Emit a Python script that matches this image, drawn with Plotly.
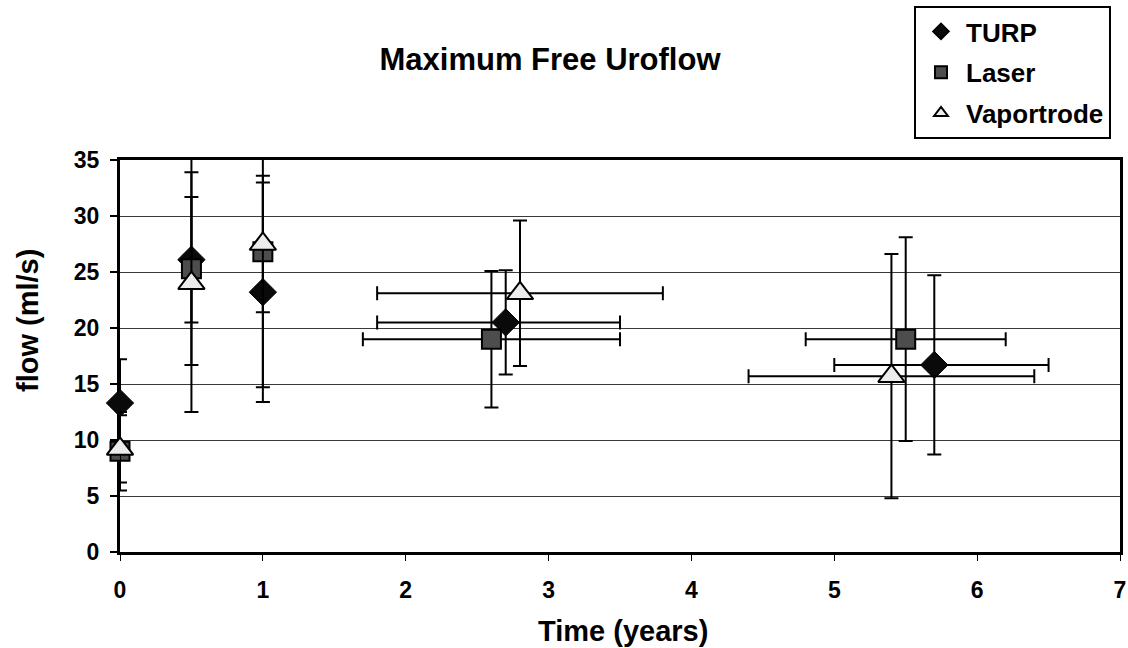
import plotly.graph_objects as go

# ---- data ----
series_names = ["TURP", "Laser", "Vaportrode"]

turp_x = [0, 0.5, 1, 2.7, 5.7]
turp_y = [13.3, 26.1, 23.2, 20.5, 16.7]
turp_yerr = [3.9, 5.6, 9.8, 4.65, 8.0]
turp_xerr_plus = [None, None, None, 0.8, 0.8]
turp_xerr_minus = [None, None, None, 0.9, 0.7]

laser_x = [0, 0.5, 1, 2.6, 5.5]
laser_y = [9.0, 25.3, 26.8, 19.0, 19.0]
laser_yerr = [3.5, 8.6, 12.1, 6.1, 9.1]
laser_xerr_plus = [None, None, None, 0.9, 0.7]
laser_xerr_minus = [None, None, None, 0.9, 0.7]

vapor_x = [0, 0.5, 1, 2.8, 5.4]
vapor_y = [9.2, 24.0, 27.5, 23.1, 15.7]
vapor_yerr = [3.0, 11.5, 6.1, 6.5, 10.9]
vapor_xerr_plus = [None, None, None, 1.0, 1.0]
vapor_xerr_minus = [None, None, None, 1.0, 1.0]

x_ticks = [0, 1, 2, 3, 4, 5, 6, 7]
y_ticks = [0, 5, 10, 15, 20, 25, 30, 35]

title_text = "Maximum Free Uroflow"
x_title = "Time (years)"
y_title = "flow (ml/s)"

FONT = "Liberation Sans, Arial, sans-serif"

def err(arr, arrm=None):
    d = dict(type="data", array=arr, color="black", thickness=2, width=7, visible=True)
    if arrm is not None:
        d["symmetric"] = False
        d["arrayminus"] = arrm
    else:
        d["symmetric"] = True
    return d

styles = [
    dict(symbol="diamond", size=21, color="#0a0a0a", line=dict(color="black", width=1)),
    dict(symbol="square", size=19, color="#4d4d4d", line=dict(color="black", width=2)),
    dict(symbol="triangle-up", size=23, color="#ececec", line=dict(color="black", width=2)),
]

data = [
    (turp_x, turp_y, turp_yerr, turp_xerr_plus, turp_xerr_minus),
    (laser_x, laser_y, laser_yerr, laser_xerr_plus, laser_xerr_minus),
    (vapor_x, vapor_y, vapor_yerr, vapor_xerr_plus, vapor_xerr_minus),
]

fig = go.Figure()
for i, (name, (xs, ys, ye, xp, xm)) in enumerate(zip(series_names, data)):
    fig.add_trace(go.Scatter(
        x=xs, y=ys, name=name, mode="markers",
        marker=styles[i],
        error_y=err(ye),
        error_x=err(xp, xm),
        cliponaxis=False,
        legendgroup=name,
    ))

axis_common = dict(
    showline=True, linecolor="black", linewidth=3, mirror=True,
    ticks="outside", tickcolor="black", zeroline=False,
    tickfont=dict(family=FONT, size=23, color="black", weight="bold"),
    layer="below traces", automargin=False,
)

fig.update_xaxes(
    range=[0, 7], tickvals=x_ticks, showgrid=False, ticklen=6, tickwidth=1,
    ticklabelstandoff=9,
    **axis_common,
)
fig.update_yaxes(
    range=[0, 35], tickvals=y_ticks, showgrid=True, gridcolor="#3a3a3a", gridwidth=1.3,
    ticklen=7, tickwidth=1.5, ticklabelstandoff=6,
    **axis_common,
)

# page body margin is removed in post_script, so figure pixels = reference pixels
W, H = 1128, 648
PLOT_L, PLOT_T = 120, 160
PLOT_R = W - 1120
PLOT_B = H - 552
PH = H - PLOT_T - PLOT_B
PW = W - PLOT_L - PLOT_R

def px(x):
    return (x - PLOT_L) / PW

def py(y):
    return (H - PLOT_B - y) / PH

fig.update_layout(
    width=W, height=H,
    margin=dict(l=PLOT_L, r=PLOT_R, t=PLOT_T, b=PLOT_B, autoexpand=False),
    paper_bgcolor="white", plot_bgcolor="white",
    title=dict(text=title_text, xref="container", yref="container",
               x=550 / W, y=1 - 59 / H, xanchor="center", yanchor="middle",
               font=dict(family=FONT, size=31, color="black", weight="bold")),
    legend=dict(
        x=px(914), y=py(6), xanchor="left", yanchor="top",
        bgcolor="white", bordercolor="black", borderwidth=2,
        font=dict(family=FONT, size=26, color="black", weight="bold"),
        itemsizing="constant", itemwidth=40, traceorder="grouped", tracegroupgap=4,
    ),
    showlegend=True,
    annotations=[
        dict(text=x_title, xref="paper", yref="paper",
             x=px(623), y=py(631), xanchor="center", yanchor="middle",
             showarrow=False, font=dict(family=FONT, size=29, color="black", weight="bold")),
        dict(text=y_title, xref="paper", yref="paper", textangle=-90,
             x=px(28), y=py(321), xanchor="center", yanchor="middle",
             showarrow=False, font=dict(family=FONT, size=29, color="black", weight="bold")),
    ],
)

fig.write_html(
    "out.html",
    config={"displayModeBar": False},
    post_script="document.body.style.margin='0';document.body.style.padding='0';"
                "document.documentElement.style.overflow='hidden';",
)
